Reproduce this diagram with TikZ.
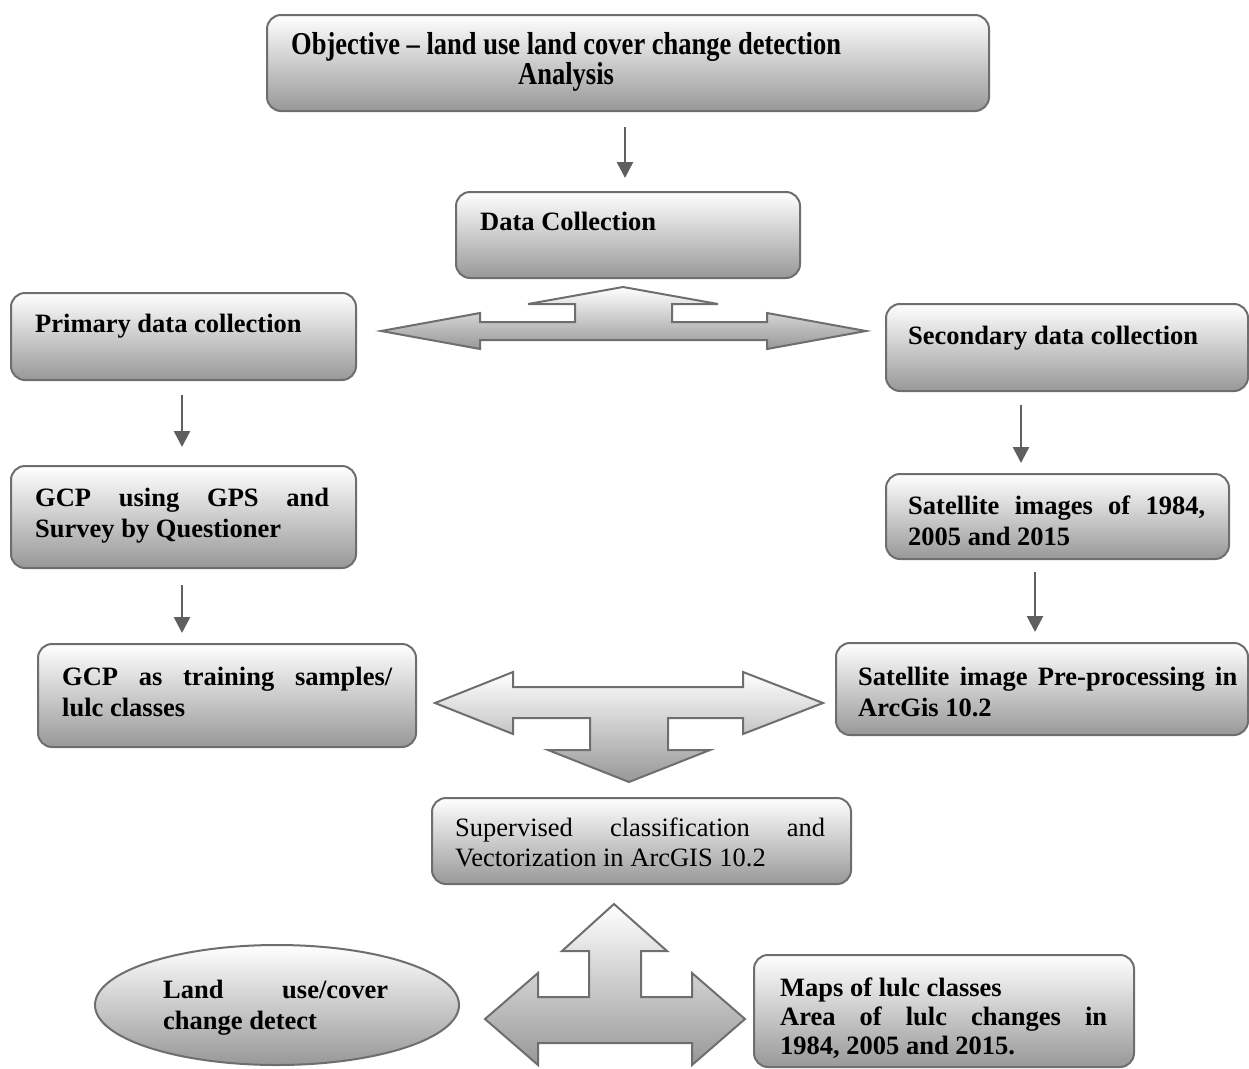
\documentclass[tikz,border=0pt]{standalone}
\usepackage{fontspec}
\setmainfont{Liberation Serif}
\usepackage{graphicx}
\usetikzlibrary{arrows.meta,shapes.geometric}
\definecolor{edgegray}{RGB}{110,110,110}
\definecolor{shadebot}{RGB}{152,152,152}
\definecolor{conngray}{RGB}{95,95,95}
\tikzset{
  box/.style={draw=edgegray, line width=2pt, rounded corners=14pt, top color=white, bottom color=shadebot, anchor=north west, inner sep=0pt},
  txt/.style={anchor=base west, inner sep=0pt, font=\fontsize{26.5}{31}\selectfont\bfseries},
  rtxt/.style={anchor=base west, inner sep=0pt, font=\fontsize{26.5}{30}\selectfont},
  conn/.style={draw=conngray, line width=2.5pt, -{Triangle[width=16pt,length=16pt]}},
  bigarrow/.style={draw=edgegray, line width=2pt, top color=white, bottom color=shadebot, line join=miter}
}
\begin{document}
\begin{tikzpicture}[x=1pt,y=-1pt]
\useasboundingbox (0,0) rectangle (1249,1068);

% boxes
\node[box, minimum width=722pt, minimum height=96pt] (obj) at (266,14) {};
\node[box, minimum width=344pt, minimum height=86pt] (dc) at (455,191) {};
\node[box, minimum width=345pt, minimum height=87pt] (prim) at (10,292) {};
\node[box, minimum width=362pt, minimum height=87pt] (sec) at (885,303) {};
\node[box, minimum width=345pt, minimum height=102pt] (gcp) at (10,465) {};
\node[box, minimum width=343pt, minimum height=85pt] (sat) at (885,473) {};
\node[box, minimum width=378pt, minimum height=103pt] (train) at (37,643) {};
\node[box, minimum width=412pt, minimum height=92pt] (pre) at (835,642) {};
\node[box, minimum width=419pt, minimum height=86pt] (sup) at (431,797) {};
\node[box, minimum width=380pt, minimum height=112pt] (maps) at (753,954) {};
\node[draw=edgegray, line width=2pt, ellipse, top color=white, bottom color=shadebot, minimum width=364pt, minimum height=120pt, inner sep=0pt] (lucd) at (277,1005) {};

% texts
\node[txt] (objA) at (291,54) {\scalebox{1}[1.2]{Objective -- land use land cover change detection}};
\node[txt] (objB) at (518,84) {\scalebox{1}[1.2]{Analysis}};
\node[txt] (dcT) at (480,230) {Data Collection};
\node[txt] (primT) at (35,332) {Primary data collection};
\node[txt] (secT) at (908,344) {Secondary data collection};
\node[txt] (gcpT) at (35,506) {\parbox[t]{294pt}{\makebox[294pt][s]{GCP using GPS and}\\Survey by Questioner}};
\node[txt] (satT) at (908,514) {\parbox[t]{297pt}{\makebox[297pt][s]{Satellite images of 1984,}\\2005 and 2015}};
\node[txt] (trainT) at (62,685) {\parbox[t]{330pt}{\makebox[330pt][s]{GCP as training samples/}\\lulc classes}};
\node[txt] (preT) at (858,685) {\parbox[t]{379pt}{\makebox[379pt][s]{Satellite image Pre-processing in}\\ArcGis 10.2}};
\node[rtxt] (supT) at (455,836) {\parbox[t]{370pt}{\makebox[370pt][s]{Supervised classification and}\\Vectorization in ArcGIS 10.2}};
\node[txt] (lucdT) at (163,998) {\parbox[t]{225pt}{\makebox[225pt][s]{Land use/cover}\\change detect}};
\node[txt, font=\fontsize{26.5}{29}\selectfont\bfseries] (mapsT) at (780,996) {\parbox[t]{327pt}{Maps of lulc classes\\\makebox[327pt][s]{Area of lulc changes in}\\1984, 2005 and 2015.}};

% thin connectors
\draw[conn, shorten <=15pt, shorten >=13pt] (obj.south -| 625,0) -- (dc.north -| 625,0);
\draw[conn, shorten <=14pt, shorten >=18pt] (prim.south -| 182,0) -- (gcp.north -| 182,0);
\draw[conn, shorten <=16pt, shorten >=10pt] (gcp.south -| 182,0) -- (train.north -| 182,0);
\draw[conn, shorten <=13pt, shorten >=10pt] (sec.south -| 1021,0) -- (sat.north -| 1021,0);
\draw[conn, shorten <=12pt, shorten >=10pt] (sat.south -| 1035,0) -- (pre.north -| 1035,0);

% big block arrows
\draw[bigarrow] (381,331) -- (480,313) -- (480,322) -- (575,322) -- (575,304) -- (528,304) -- (623,287) -- (718,304) -- (672,304) -- (672,322) -- (767,322) -- (767,313) -- (866,331) -- (767,349) -- (767,340) -- (480,340) -- (480,349) -- cycle;
\draw[bigarrow] (435,703) -- (513,672) -- (513,687) -- (743,687) -- (743,672) -- (823,703) -- (743,734) -- (743,718) -- (668,718) -- (668,750) -- (710,750) -- (629,782) -- (548,750) -- (590,750) -- (590,718) -- (513,718) -- (513,734) -- cycle;
\draw[bigarrow] (485,1019) -- (538,973) -- (538,997) -- (589,997) -- (589,951) -- (562,951) -- (614,904) -- (667,951) -- (641,951) -- (641,997) -- (692,997) -- (692,973) -- (745,1019) -- (692,1065) -- (692,1043) -- (538,1043) -- (538,1065) -- cycle;
\end{tikzpicture}
\end{document}
